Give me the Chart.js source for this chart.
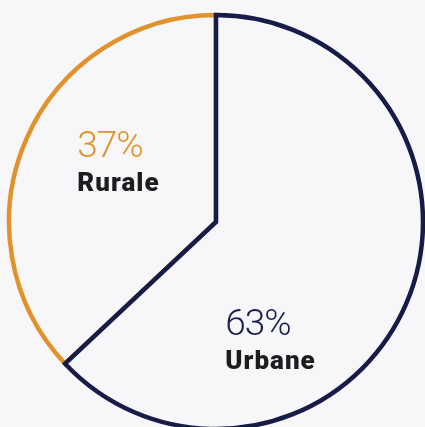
<!DOCTYPE html>
<html>
<head>
<meta charset="utf-8">
<script src="https://cdn.jsdelivr.net/npm/chart.js@4/dist/chart.umd.min.js"></script>
<style>
  html, body { margin: 0; padding: 0; background: #f7f7fa; overflow: hidden; }
  #wrap { width: 432px; height: 444px; }
</style>
</head>
<body>
<div id="wrap"><canvas id="graficoPie" width="432" height="444"></canvas></div>
<script>
// datos del grafico
const categorie = ['Rurale', 'Urbane'];
const valori = [37, 63];
const etichette = ['37%', '63%'];
const coloriBordo = ['#e1922d', '#161b48'];
const coloriTesto = ['#e1922d', '#1a1f4d'];

// la fetta Urbane parte dalle 12, quindi Rurale parte dopo di essa
const totale = valori.reduce((a, b) => a + b, 0);
const rotazione = 360 * valori[1] / totale;

// posizione delle etichette (frazioni del raggio, rispetto al centro)
const posEtichette = [
  { dx: -0.67, dy: -0.314 },
  { dx: 0.045, dy: 0.546 }
];

const etichettePlugin = {
  id: 'etichette',
  afterDraw(chart) {
    const ctx = chart.ctx;
    const arcs = chart.getDatasetMeta(0).data;
    arcs.forEach((arc, i) => {
      const r = arc.outerRadius;
      const x = arc.x + posEtichette[i].dx * r;
      const y = arc.y + posEtichette[i].dy * r;
      ctx.save();
      ctx.textAlign = 'left';
      ctx.textBaseline = 'alphabetic';
      ctx.fillStyle = coloriTesto[i];
      ctx.font = '300 37px Roboto';
      ctx.letterSpacing = '-1px';
      ctx.fillText(etichette[i], x, y);
      ctx.fillStyle = '#1d1d20';
      ctx.font = '900 26px Roboto';
      ctx.letterSpacing = '1px';
      ctx.fillText(categorie[i], x, y + 34);
      ctx.restore();
    });
  }
};

const ctx = document.getElementById('graficoPie');
new Chart(ctx, {
  type: 'pie',
  data: {
    labels: categorie,
    datasets: [{
      data: valori,
      backgroundColor: '#f7f7fa',
      borderColor: coloriBordo,
      borderWidth: 4.5,
      borderJoinStyle: 'miter'
    }]
  },
  options: {
    responsive: false,
    animation: false,
    rotation: rotazione,
    radius: 207,
    layout: { padding: 0 },
    plugins: {
      legend: { display: false },
      tooltip: { enabled: false }
    }
  },
  plugins: [etichettePlugin]
});
</script>
</body>
</html>
